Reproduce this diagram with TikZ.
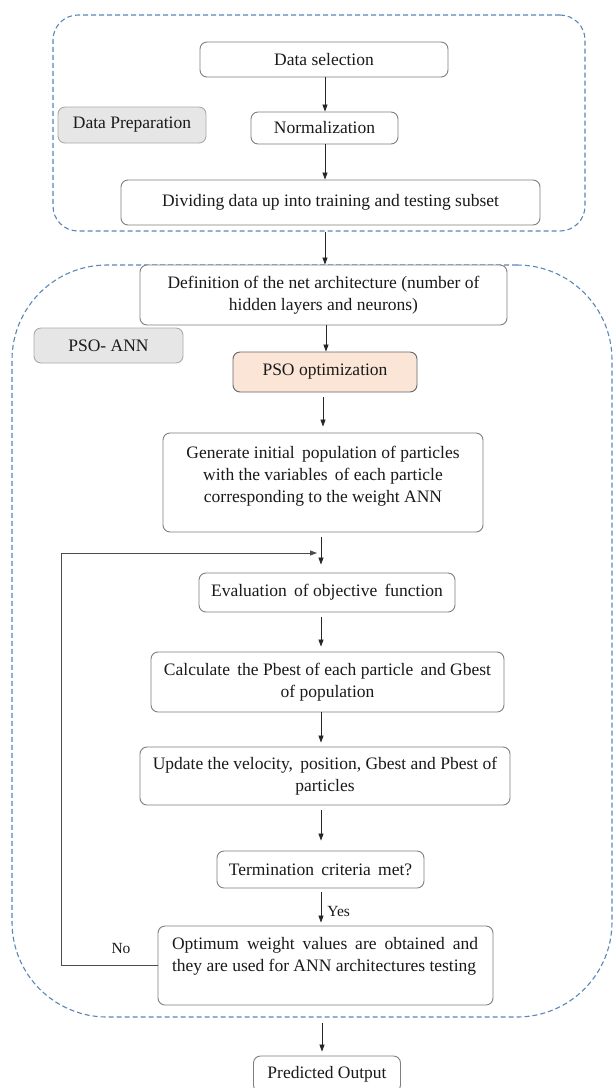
\documentclass[tikz,border=0pt]{standalone}
\usepackage{fontspec}
\setmainfont{Liberation Serif}
\usetikzlibrary{arrows.meta,calc}
\definecolor{grpblue}{HTML}{5B87B7}
\definecolor{boxline}{HTML}{7F7F7F}
\definecolor{lblfill}{HTML}{E6E6E6}
\definecolor{lbldraw}{HTML}{ABABAB}
\definecolor{psofill}{HTML}{FBE5D6}
\definecolor{txtcol}{HTML}{1A1A1A}
\begin{document}
\begin{tikzpicture}[x=1pt,y=-1pt,
  box/.style={draw=boxline, line width=0.9pt, rounded corners=7pt, fill=white,
    align=center, inner sep=0pt, font=\fontsize{17.5}{22.5}\selectfont, text=txtcol},
  lbl/.style={box, fill=lblfill, draw=lbldraw},
  txt/.style={align=center, inner sep=0pt, font=\fontsize{17.5}{22}\selectfont, text=txtcol},
  small/.style={inner sep=0pt, font=\fontsize{15.5}{18}\selectfont, text=txtcol},
  group/.style={draw=grpblue, dash pattern=on 5pt off 3pt, line width=1.1pt, inner sep=0pt},
  arr/.style={-{Triangle[length=7pt,width=5pt]}, line width=0.8pt, draw=black!85}
]
\useasboundingbox (0,0) rectangle (613,1088);
\clip (0,0) rectangle (613,1088);
\fill[white] (0,0) rectangle (613,1088);

% groups
\node[group, rounded corners=25pt, minimum width=532pt, minimum height=216pt] (prep) at (319,123) {};
\node[group, rounded corners=95pt, minimum width=600pt, minimum height=752pt] (psoann) at (312,641) {};

% arrow x positions
\coordinate (ax1) at (325,0);
\coordinate (ax2) at (326,0);
\coordinate (ax3) at (323,0);
\coordinate (ax4) at (321,0);
\coordinate (ax5) at (322,0);

% data preparation
\node[box, minimum width=248pt, minimum height=35pt] (ds) at (324,59.5) {Data selection};
\node[box, minimum width=147pt, minimum height=32pt] (norm) at (324.5,128) {Normalization};
\node[lbl, minimum width=148pt, minimum height=36pt] (dplbl) at (132,125) {Data Preparation};
\node[box, minimum width=419pt, minimum height=45pt] (div) at (330.5,202.5) {Dividing data up into training and testing subset};

% PSO-ANN
\node[box, minimum width=367pt, minimum height=60pt] (def) at (323.5,295) {Definition of the net architecture (number of\\hidden layers and neurons)};
\node[lbl, minimum width=149pt, minimum height=35pt] (palbl) at (108.5,345.5) {PSO- ANN};
\node[box, fill=psofill, draw=black!60, minimum width=184pt, minimum height=40pt] (pso) at (325,372) {PSO optimization};
\node[box, minimum width=320pt, minimum height=99pt] (gen) at (323,482.5) {};
\node[txt] (gentxt) at ($(gen.center)+(0,-6.5)$) {Generate initial\, population of particles\\with the variables\, of each particle\\corresponding to the weight ANN};
\node[box, minimum width=256pt, minimum height=39pt] (eval) at (327,592.5) {Evaluation\, of objective\, function};
\node[box, minimum width=353pt, minimum height=60pt] (calc) at (327.5,682) {Calculate\, the Pbest of each particle\, and Gbest\\of population};
\node[box, minimum width=370pt, minimum height=58pt] (upd) at (325,776) {Update the velocity,\, position, Gbest and Pbest of\\particles};
\node[box, minimum width=207pt, minimum height=37pt] (term) at (320.5,869.5) {Termination\, criteria\, met?};
\node[box, minimum width=335pt, minimum height=79pt] (opt) at (325.5,965.5) {};
\node[txt, text width=306pt, align=justify] (opttxt) at (325,956.5) {Optimum weight values are obtained and\linebreak they are used for ANN architectures testing};
\node[box, minimum width=147pt, minimum height=36pt] (pred) at (327,1074) {Predicted Output};

% arrows
\draw[arr] (ds.south -| ax1) -- (norm.north -| ax1);
\draw[arr] (norm.south -| ax1) -- (div.north -| ax1);
\draw[arr] (prep.south -| ax1) -- (def.north -| ax1);
\draw[arr] (def.south -| ax2) -- (pso.north -| ax2);
\draw[arr, shorten <=5pt, shorten >=6pt] (pso.south -| ax3) -- (gen.north -| ax3);
\draw[arr, shorten <=5pt, shorten >=8pt] (gen.south -| ax4) -- (eval.north -| ax4);
\draw[arr, shorten <=5pt, shorten >=5pt] (eval.south -| ax4) -- (calc.north -| ax4);
\draw[arr, shorten >=4pt] (calc.south -| ax4) -- (upd.north -| ax4);
\draw[arr, shorten <=5pt, shorten >=10pt] (upd.south -| ax4) -- (term.north -| ax4);
\draw[arr, shorten <=4pt, shorten >=3pt] (term.south -| ax4) -- (opt.north -| ax4) node[small, anchor=west, pos=0.62, xshift=6pt] (yes) {Yes};
\draw[arr, shorten <=5pt, shorten >=4pt] (psoann.south -| ax5) -- (pred.north -| ax5);

% loop back
\coordinate (loopcorner) at (61,553);
\coordinate (loopend) at (317,553);
\draw[arr, draw=black!70] (opt.west) -| (loopcorner) -- (loopend);
\node[small] (no) at (121,948) {No};
\end{tikzpicture}
\end{document}
